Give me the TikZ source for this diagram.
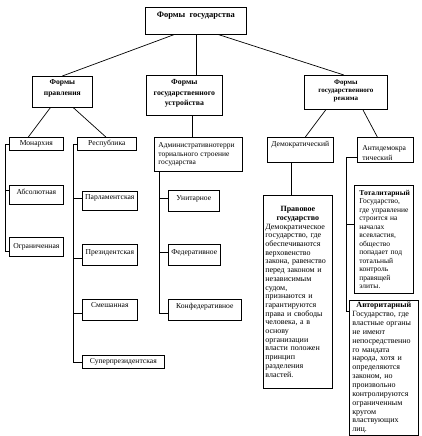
\documentclass[tikz,border=0pt]{standalone}
\usepackage{fontspec}
\setmainfont{Liberation Serif}
\usetikzlibrary{shadows}
\newcommand{\noind}{\setlength{\parindent}{0pt}}
\newcommand{\ctitle}[1]{\hfill\textbf{#1}\hfill\mbox{}\\}
\tikzset{
 box/.style={draw, line width=0.7pt, fill=white, anchor=north west, inner sep=0pt, align=center,
   drop shadow={shadow xshift=0.9pt, shadow yshift=-0.9pt, opacity=1, fill=black}},
 lbl/.style={box, font=\fontsize{7.6}{9}\selectfont, text height=5.5pt},
 head/.style={box, font=\bfseries\fontsize{7.6}{11.5}\selectfont},
 desc/.style={box, align=left, execute at begin node=\noind},
 conn/.style={line width=0.7pt},
}
\begin{document}
\begin{tikzpicture}[x=1pt,y=-1pt]
\useasboundingbox (0,0) rectangle (422,436);
% level 1
\node[box, font=\bfseries\fontsize{8.5}{10}\selectfont, minimum width=101pt, minimum height=27pt, text height=6pt, text depth=12pt] (top) at (145,7) {Формы\ \ государства};
% level 2
\node[head, minimum width=60pt, minimum height=31pt, text depth=9pt] (prav) at (32,76) {Формы\\правления};
\node[head, font=\bfseries\fontsize{7.8}{10.5}\selectfont, minimum width=76pt, minimum height=40pt, text depth=5.5pt] (ustr) at (146,75) {Формы\\государственного\\устройства};
\node[head, font=\bfseries\fontsize{7}{8.3}\selectfont, minimum width=83pt, minimum height=34pt, text depth=4.5pt] (rezh) at (304,75) {Формы\\государственного\\режима};
% level 3
\node[lbl, minimum width=54pt, minimum height=13pt, text depth=1.5pt] (mon) at (9,137) {Монархия};
\node[lbl, minimum width=59pt, minimum height=13pt, text depth=1.5pt] (resp) at (77,137) {Республика};
\node[box, align=left, font=\fontsize{7.5}{8.5}\selectfont, text width=80pt, inner xsep=4pt, minimum width=88pt, minimum height=34pt] (adm) at (154,137) {Административнотерри\\ториального~строение\\государства};
\node[lbl, minimum width=66pt, minimum height=25pt, text depth=11.5pt] (dem) at (267,137) {Демократический};
\node[box, align=left, font=\fontsize{7.6}{10}\selectfont, text width=46pt, inner xsep=5pt, minimum width=56pt, minimum height=25pt, text depth=3.5pt] (anti) at (357,137) {Антидемокра\\тический};
% level 4
\node[lbl, minimum width=54pt, minimum height=19pt, text depth=5.5pt] (abs) at (9,185) {Абсолютная};
\node[lbl, minimum width=54pt, minimum height=19pt, text depth=2.5pt] (ogr) at (9,237) {Ограниченная};
\node[lbl, minimum width=55pt, minimum height=19pt, text depth=7.5pt] (parl) at (82,191) {Парламентская};
\node[lbl, minimum width=55pt, minimum height=21pt, text depth=5.5pt] (pres) at (82,244) {Президентская};
\node[lbl, minimum width=55pt, minimum height=21pt, text depth=9.5pt] (smesh) at (82,299) {Смешанная};
\node[lbl, minimum width=82pt, minimum height=13pt, text depth=1.5pt] (super) at (82,355) {Суперпрезидентская};
\node[lbl, minimum width=51pt, minimum height=21pt, text depth=5.5pt] (unit) at (168,190) {Унитарное};
\node[lbl, minimum width=52pt, minimum height=21pt, text depth=5.5pt] (fed) at (168,244) {Федеративное};
\node[lbl, minimum width=73pt, minimum height=21pt, text depth=7.5pt] (konf) at (168,299) {Конфедеративное};
% descriptive boxes
\node[desc, font=\fontsize{8}{8.7}\selectfont, text width=65pt, inner xsep=2pt, minimum width=69pt, minimum height=193pt] (prav2) at (263,195) {\ctitle{Правовое}\ctitle{государство}Демократическое\\государство,~где\\обеспечиваются\\верховенство\\закона,~равенство\\перед~законом~и\\независимым\\судом,\\признаются~и\\гарантируются\\права~и~свободы\\человека,~а~в\\основу\\организации\\власти~положен\\принцип\\разделения\\властей.};
\node[desc, font=\fontsize{7.5}{8.5}\selectfont, text width=49pt, inner xsep=5pt, minimum width=59pt, minimum height=108pt] (total) at (354,185) {\textbf{Тоталитарный}\\Государство,\\где~управление\\строится~на\\началах\\всевластия,\\общество\\попадает~под\\тотальный\\контроль\\правящей\\элиты.};
\node[desc, font=\fontsize{8}{8.86}\selectfont, text width=63pt, inner xsep=3pt, minimum width=69pt, minimum height=135pt] (avt) at (349,300) {\ctitle{Авторитарный}Государство,~где\\властные~органы\\не~имеют\\непосредственно\\го~мандата\\народа,~хотя~и\\определяются\\законом,~но\\произвольно\\контролируются\\ограниченным\\кругом\\властвующих\\лиц.};
% connectors
\draw[conn] ([xshift=-22pt]top.south) -- (prav.north);
\draw[conn] (top.south) -- (top.south |- ustr.north);
\draw[conn] ([xshift=23pt]top.south) -- ([xshift=-2pt]rezh.north);
\draw[conn] ([xshift=-12pt]prav.south) -- ([xshift=-8pt]mon.north);
\draw[conn] ([xshift=11pt]prav.south) -- ([xshift=-1pt]resp.north);
\draw[conn] ([xshift=8pt]ustr.south) coordinate (u1) -- (u1 |- adm.north);
\draw[conn] ([xshift=-20pt]rezh.south) -- ([xshift=5pt]dem.north);
\draw[conn] ([xshift=17pt]rezh.south) -- ([xshift=-8pt]anti.north);
% monarchy bracket
\draw[conn] (mon.west) -- ++(-4,0) |- ([yshift=-14.7pt]ogr.north west);
\draw[conn] ([yshift=-5.7pt]abs.north west) -- ++(-4,0);
% republic bracket
\draw[conn] (resp.west) -- ++(-4,0) |- (super.west);
\draw[conn] ([yshift=-7pt]parl.north west) -- ++(-9,0);
\draw[conn] ([yshift=-14pt]pres.north west) -- ++(-9,0);
\draw[conn] ([yshift=-14pt]smesh.north west) -- ++(-9,0);
% administrative bracket
\draw[conn] ([xshift=5pt]adm.south west) |- ([yshift=-14pt]konf.north west);
\draw[conn] ([yshift=-8pt]unit.north west) -- ++(-9,0);
\draw[conn] ([yshift=-8pt]fed.north west) -- ++(-9,0);
% democratic
\draw[conn] ([xshift=24pt]dem.south west) coordinate (d1) -- (d1 |- prav2.north);
% antidemocratic bracket
\draw[conn] ([yshift=5pt]anti.south west) -- ++(-11,0) |- ([yshift=-11pt]avt.north west);
\draw[conn] ([yshift=-39pt]total.north west) -- ++(-8,0);
\end{tikzpicture}
\end{document}
